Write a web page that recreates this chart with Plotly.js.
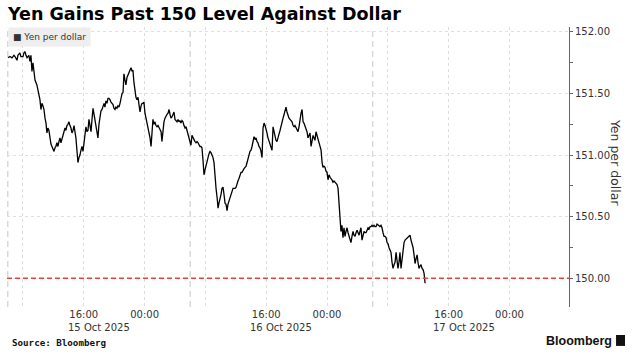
<!DOCTYPE html>
<html>
<head>
<meta charset="utf-8">
<script src="https://cdn.plot.ly/plotly-3.0.1.min.js"></script>
<style>html,body{margin:0;padding:0;background:#fff;}#chart{width:633px;height:359px;}</style>
</head>
<body>
<div id="chart"></div>
<script>
// ---- data ----
const oct15Times = ["06:02","06:17","06:33","06:49","06:57","07:13","07:20","07:36","07:44","08:00","08:08","08:16","08:24","08:32","08:47","08:55","09:03","09:11","09:19","09:27","09:35","09:50","09:58","10:06","10:14","10:22","10:30","10:38","10:46","10:54","11:02","11:09","11:17","11:25","11:33","11:41","11:49","11:57","12:05","12:13","12:20","12:28","12:36","12:44","12:52","13:00","13:08","13:16","13:24","13:32","13:39","13:47","13:55","14:03","14:11","14:19","14:27","14:35","14:43","14:51","14:58","15:06","15:14","15:22","15:30","15:38","15:46","15:54","16:02","16:10","16:17","16:25","16:33","16:41","16:49","16:57","17:05","17:13","17:21","17:28","17:36","17:44","17:52","18:00","18:08","18:16","18:24","18:32","18:40","18:47","18:55","19:03","19:11","19:19","19:27","19:35","19:51","19:58","20:06","20:14","20:22","20:30","20:38","20:46","20:54","21:02","21:10","21:17","21:25","21:33","21:41","21:49","21:57","22:05","22:13","22:21","22:28","22:36","22:44","22:52","23:00","23:08","23:16","23:24","23:32","23:40","23:47","23:55"];
const oct15Yen = [151.79,151.80,151.79,151.81,151.80,151.77,151.81,151.83,151.80,151.80,151.83,151.84,151.81,151.79,151.81,151.76,151.81,151.68,151.75,151.69,151.61,151.57,151.53,151.48,151.45,151.37,151.42,151.40,151.37,151.30,151.26,151.18,151.22,151.20,151.12,151.09,151.07,151.04,151.03,151.06,151.07,151.10,151.07,151.11,151.14,151.10,151.13,151.16,151.19,151.22,151.20,151.24,151.25,151.27,151.24,151.22,151.18,151.20,151.24,151.20,151.14,151.04,150.94,150.98,151.00,151.04,151.07,151.03,151.10,151.17,151.23,151.19,151.20,151.29,151.24,151.19,151.29,151.38,151.33,151.29,151.25,151.22,151.14,151.25,151.33,151.36,151.37,151.40,151.42,151.39,151.44,151.42,151.46,151.46,151.45,151.43,151.41,151.38,151.37,151.39,151.38,151.40,151.39,151.42,151.47,151.50,151.51,151.66,151.61,151.57,151.63,151.65,151.68,151.69,151.71,151.68,151.69,151.59,151.50,151.47,151.45,151.47,151.41,151.35,151.40,151.42,151.42,151.43];

const oct16Times = ["00:03","00:11","00:19","00:27","00:35","00:43","00:51","00:58","01:06","01:14","01:22","01:30","01:38","01:46","01:54","02:02","02:10","02:17","02:25","02:33","02:41","02:49","02:57","03:05","03:13","03:21","03:28","03:36","03:44","03:52","04:00","04:08","04:16","04:24","04:32","04:39","04:47","04:55","05:03","05:11","05:19","05:27","05:35","05:43","05:51","05:58","06:06","06:14","06:22","06:30","06:38","06:46","06:54","07:02","07:09","07:17","07:25","07:33","07:41","07:49","07:57","08:05","08:13","08:21","08:28","08:36","08:44","08:52","09:00","09:08","09:16","09:24","09:32","09:40","09:47","09:55","10:03","10:11","10:19","10:27","10:35","10:43","10:51","10:58","11:06","11:14","11:22","11:30","11:38","11:46","11:54","12:02","12:10","12:17","12:25","12:33","12:41","12:49","12:57","13:05","13:13","13:21","13:29","13:36","13:44","13:52","14:00","14:08","14:16","14:24","14:32","14:40","14:47","14:55","15:03","15:11","15:19","15:27","15:35","15:43","15:51","15:58","16:06","16:14","16:22","16:30","16:38","16:46","16:54","17:02","17:10","17:17","17:25","17:33","17:41","17:49","17:57","18:05","18:13","18:21","18:28","18:36","18:44","18:52","19:00","19:08","19:16","19:24","19:32","19:40","19:47","19:55","20:03","20:11","20:19","20:27","20:35","20:43","20:51","20:58","21:06","21:14","21:22","21:30","21:38","21:46","21:54","22:02","22:10","22:17","22:25","22:33","22:41","22:49","22:57","23:05","23:13","23:21","23:28","23:36","23:44","23:52"];
const oct16Yen = [151.34,151.30,151.26,151.22,151.19,151.14,151.07,151.22,151.29,151.25,151.27,151.24,151.23,151.24,151.22,151.20,151.19,151.11,151.23,151.27,151.30,151.32,151.33,151.34,151.37,151.33,151.30,151.31,151.33,151.35,151.29,151.28,151.27,151.29,151.27,151.28,151.26,151.28,151.27,151.24,151.22,151.23,151.20,151.17,151.14,151.11,151.08,151.16,151.14,151.12,151.11,151.10,151.11,151.10,151.08,151.07,151.07,151.06,150.96,150.84,150.88,150.92,150.96,150.98,151.01,151.03,151.02,151.00,150.98,150.94,150.80,150.73,150.66,150.57,150.61,150.64,150.68,150.73,150.74,150.68,150.61,150.60,150.55,150.60,150.63,150.66,150.69,150.72,150.73,150.73,150.73,150.74,150.78,150.79,150.81,150.84,150.86,150.86,150.88,150.89,150.90,150.91,150.94,150.96,151.00,151.03,151.04,151.07,151.11,151.15,151.13,151.14,151.11,151.10,151.07,151.06,151.03,150.98,151.22,151.26,151.24,151.22,151.18,151.14,151.11,151.08,151.06,151.04,151.23,151.19,151.15,151.12,151.11,151.15,151.17,151.20,151.24,151.26,151.30,151.33,151.37,151.39,151.35,151.31,151.30,151.29,151.28,151.27,151.24,151.23,151.24,151.22,151.20,151.19,151.23,151.30,151.34,151.37,151.27,151.26,151.24,151.22,151.19,151.14,151.16,151.18,151.07,151.12,151.16,151.14,151.12,151.19,151.16,151.14,151.10,151.07,151.04,150.94,150.90,150.91,150.90,150.87];

const oct17Times = ["00:00","00:08","00:16","00:24","00:32","00:39","00:47","00:55","01:03","01:11","01:19","01:27","01:35","01:43","01:50","01:58","02:06","02:14","02:22","02:30","02:38","02:46","02:54","03:02","03:09","03:17","03:25","03:33","03:41","03:49","03:57","04:05","04:13","04:20","04:28","04:36","04:44","04:52","05:00","05:08","05:16","05:24","05:32","05:40","05:47","05:55","06:03","06:11","06:19","06:27","06:35","06:43","06:51","06:58","07:06","07:14","07:22","07:30","07:38","07:46","07:54","08:02","08:09","08:17","08:25","08:33","08:41","08:49","08:57","09:05","09:13","09:20","09:28","09:36","09:44","09:52","10:00","10:08","10:16","10:24","10:32","10:40","10:47","10:55","11:03","11:11","11:19","11:27","11:35","11:43","11:51","11:58","12:06","12:14","12:22","12:30","12:38","12:46","12:54"];
const oct17Yen = [150.86,150.80,150.84,150.82,150.81,150.80,150.78,150.79,150.78,150.77,150.76,150.73,150.58,150.45,150.38,150.43,150.33,150.41,150.34,150.38,150.41,150.37,150.34,150.31,150.29,150.34,150.38,150.35,150.34,150.37,150.39,150.37,150.35,150.38,150.41,150.31,150.34,150.38,150.37,150.37,150.39,150.41,150.40,150.42,150.42,150.43,150.42,150.43,150.42,150.42,150.44,150.43,150.42,150.42,150.43,150.41,150.37,150.34,150.34,150.33,150.29,150.28,150.25,150.23,150.21,150.13,150.08,150.11,150.13,150.21,150.13,150.08,150.13,150.21,150.08,150.16,150.25,150.29,150.31,150.32,150.33,150.34,150.34,150.35,150.31,150.28,150.25,150.19,150.12,150.16,150.19,150.13,150.08,150.10,150.11,150.08,150.07,150.04,149.96];

const seriesName = "Yen per dollar";
const levelLine = 150;
const gridTimes = ["2025-10-15 08:00","2025-10-15 16:00","2025-10-16 00:00","2025-10-16 08:00","2025-10-16 16:00","2025-10-17 00:00","2025-10-17 08:00","2025-10-17 16:00","2025-10-18 00:00"];
const gridLabels = ["","16:00","00:00","","16:00","00:00","","16:00","00:00"];
const dateLabelTimes = ["2025-10-15 18:00","2025-10-16 18:00","2025-10-17 18:00"];
const dateLabels = ["15 Oct 2025","16 Oct 2025","17 Oct 2025"];
const sessionTimes = ["2025-10-15 06:00","2025-10-16 06:00","2025-10-17 06:00"];
const yTicks = [150.00,150.50,151.00,151.50,152.00];

// ---- build table ----
const times = [].concat(
  oct15Times.map(t => "2025-10-15 " + t),
  oct16Times.map(t => "2025-10-16 " + t),
  oct17Times.map(t => "2025-10-17 " + t)
);
const yen = [].concat(oct15Yen, oct16Yen, oct17Yen);

const trace = {
  x: times, y: yen, type: "scatter", mode: "lines", name: seriesName,
  line: {color: "#000000", width: 1.3}, hoverinfo: "skip"
};

const shapes = [];
sessionTimes.forEach(t => shapes.push({
  type: "line", xref: "x", yref: "paper", x0: t, x1: t, y0: 0, y1: 1,
  line: {color: "#d9d9d9", width: 1.5, dash: "6px,4px"}, layer: "below"
}));
shapes.push({
  type: "line", xref: "paper", yref: "y", x0: 0, x1: 1, y0: levelLine, y1: levelLine,
  line: {color: "#ec4038", width: 1.5, dash: "5px,3px"}
});
shapes.push({
  type: "rect", xref: "paper", yref: "paper", x0: 1.0837, x1: 1.0997, y0: -0.139, y1: -0.1,
  fillcolor: "#111111", line: {width: 0}
});

const annotations = [];
dateLabelTimes.forEach((t, i) => annotations.push({
  x: t, xref: "x", y: -0.072, yref: "paper", text: dateLabels[i], showarrow: false,
  xanchor: "center", yanchor: "middle",
  font: {family: "DejaVu Sans", size: 10, color: "#333333"}
}));
annotations.push({
  x: 0, xref: "paper", y: 1, yref: "paper", xanchor: "left", yanchor: "top", xshift: 1, yshift: 0,
  text: "■ " + seriesName, showarrow: false, bgcolor: "#eeeeee", borderpad: 4,
  font: {family: "DejaVu Sans", size: 9, color: "#333333"}
});
annotations.push({
  x: 1.082, xref: "paper", y: 0.518, yref: "paper", text: seriesName, textangle: 90,
  showarrow: false, xanchor: "center", yanchor: "middle",
  font: {family: "DejaVu Sans", size: 12.5, color: "#333333"}
});
annotations.push({
  x: 0.0053, xref: "paper", y: -0.125, yref: "paper", text: "<b>Source: Bloomberg</b>",
  showarrow: false, xanchor: "left", yanchor: "middle",
  font: {family: "DejaVu Sans Mono", size: 9.2, color: "#111111"}
});
annotations.push({
  x: 1.0800, xref: "paper", y: -0.121, yref: "paper", text: "<b>Bloomberg</b>",
  showarrow: false, xanchor: "right", yanchor: "middle",
  font: {family: "Liberation Sans", size: 12.5, color: "#111111"}
});

const layout = {
  width: 633, height: 359,
  margin: {l: 7, r: 64, t: 27, b: 52, pad: 0},
  paper_bgcolor: "#ffffff", plot_bgcolor: "#ffffff",
  showlegend: false,
  title: {
    text: "<b>Yen Gains Past 150 Level Against Dollar</b>",
    font: {family: "DejaVu Sans", size: 17.5, color: "#000000"},
    xref: "container", x: 8/633, xanchor: "left",
    yref: "container", y: 1 - 14/359, yanchor: "middle"
  },
  xaxis: {
    type: "date", range: ["2025-10-15 05:54", "2025-10-18 07:50"],
    tickmode: "array", tickvals: gridTimes, ticktext: gridLabels,
    showgrid: true, gridcolor: "#dddddd", griddash: "dot", gridwidth: 1,
    ticks: "", showline: false, zeroline: false,
    tickfont: {family: "DejaVu Sans", size: 10, color: "#333333"},
    fixedrange: true
  },
  yaxis: {
    side: "right", range: [149.767, 152.04],
    tickmode: "array", tickvals: yTicks, tickformat: ".2f",
    ticks: "outside", ticklen: 3, tickcolor: "#666666",
    showline: true, linecolor: "#666666", linewidth: 1,
    showgrid: true, gridcolor: "#e0e0e0", griddash: "dot", zeroline: false,
    minor: {ticks: "outside", ticklen: 3, dtick: 0.25, tick0: 150, tickcolor: "#666666", showgrid: false},
    tickfont: {family: "DejaVu Sans", size: 10, color: "#333333"},
    fixedrange: true
  },
  shapes: shapes,
  annotations: annotations
};

Plotly.newPlot("chart", [trace], layout, {displayModeBar: false, staticPlot: true});
</script>
</body>
</html>
